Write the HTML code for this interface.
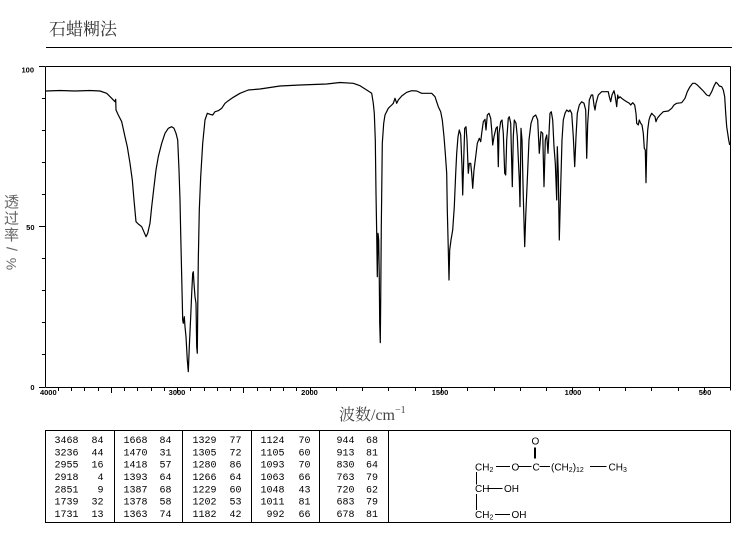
<!DOCTYPE html>
<html>
<head>
<meta charset="utf-8">
<style>
html,body{margin:0;padding:0;background:#fff;}
#wrap{position:relative;width:737px;height:539px;overflow:hidden;background:#fff;}
svg{position:absolute;left:0;top:0;}
</style>
</head>
<body>
<div id="wrap">
<svg width="737" height="539" viewBox="0 0 737 539" xmlns="http://www.w3.org/2000/svg">
<rect x="0" y="0" width="737" height="539" fill="#fff"/>
<!-- title -->
<text x="49" y="35" font-family="'Liberation Serif','Noto Serif CJK SC',serif" font-size="17" fill="#333">石蜡糊法</text>
<line x1="46" y1="47.5" x2="732" y2="47.5" stroke="#000" stroke-width="1"/>

<!-- y axis label (vertical stack) -->
<g font-family="'Liberation Sans','Noto Sans CJK SC',sans-serif" font-size="15" fill="#666" text-anchor="middle">
<text x="11.5" y="207">透</text>
<text x="11.5" y="223.5">过</text>
<text x="11.5" y="240">率</text>
<text transform="translate(11.5,249) rotate(90)" y="5" font-size="15">/</text>
<text transform="translate(11.5,264) rotate(90)" y="5" font-size="14">%</text>
</g>

<!-- frame -->
<g stroke="#000" stroke-width="1" shape-rendering="crispEdges" fill="none">
<line x1="45.5" y1="66.5" x2="730.5" y2="66.5"/>
<line x1="45.5" y1="66.5" x2="45.5" y2="387.5"/>
<line x1="730.5" y1="66.5" x2="730.5" y2="390.5"/>
<line x1="45.5" y1="387.5" x2="730.5" y2="387.5"/>
<!-- y ticks -->
<line x1="39" y1="66.5" x2="45" y2="66.5"/>
<line x1="42" y1="98.5" x2="45" y2="98.5"/>
<line x1="42" y1="130.5" x2="45" y2="130.5"/>
<line x1="42" y1="162.5" x2="45" y2="162.5"/>
<line x1="42" y1="194.5" x2="45" y2="194.5"/>
<line x1="39" y1="226.5" x2="45" y2="226.5"/>
<line x1="42" y1="258.5" x2="45" y2="258.5"/>
<line x1="42" y1="290.5" x2="45" y2="290.5"/>
<line x1="42" y1="322.5" x2="45" y2="322.5"/>
<line x1="42" y1="354.5" x2="45" y2="354.5"/>
<line x1="39" y1="387.5" x2="45" y2="387.5"/>
<!-- x ticks 4000-2000 every 100 -->
<path d="M58.5 388v3 M71.5 388v3 M84.5 388v3 M98.5 388v3 M111.5 388v5 M124.5 388v3 M137.5 388v3 M151.5 388v3 M164.5 388v3 M177.5 388v5 M190.5 388v3 M204.5 388v3 M217.5 388v3 M230.5 388v3 M243.5 388v5 M257.5 388v3 M270.5 388v3 M283.5 388v3 M296.5 388v3 M310.5 388v5"/>
<!-- x ticks 2000-400 every 100 -->
<path d="M336.5 388v3 M362.5 388v3 M388.5 388v3 M415.5 388v3 M441.5 388v5 M467.5 388v3 M494.5 388v3 M520.5 388v3 M546.5 388v3 M572.5 388v5 M599.5 388v3 M625.5 388v3 M651.5 388v3 M678.5 388v3 M704.5 388v5"/>
</g>

<!-- tick labels -->
<g font-family="'Liberation Sans',sans-serif" font-size="7.5" font-weight="bold" fill="#000">
<text x="34" y="72.3" text-anchor="end">100</text>
<text x="34.5" y="230" text-anchor="end">50</text>
<text x="34.5" y="389.8" text-anchor="end">0</text>
<text x="48.3" y="395" text-anchor="middle">4000</text>
<text x="177" y="395" text-anchor="middle">3000</text>
<text x="309.5" y="395" text-anchor="middle">2000</text>
<text x="440" y="395" text-anchor="middle">1500</text>
<text x="573" y="395" text-anchor="middle">1000</text>
<text x="705" y="395" text-anchor="middle">500</text>
</g>

<!-- x axis label -->
<text x="339" y="420" font-family="'Liberation Serif','Noto Serif CJK SC',serif" font-size="16" fill="#444">波数/cm<tspan font-size="10" dy="-7">−1</tspan></text>

<!-- spectrum -->
<polyline fill="none" stroke="#000" stroke-width="1.2" stroke-linejoin="round" points="46,91 60,90.5 75,91 90,90.5 100,91 106.7,93.3 111.7,98.3 115,101.7 115.7,99.3 116,110 118.3,115 121.7,121.7 125,136.7 127.3,146.7 130,163.3 132.3,180 134,200 136,221.7 138.3,224 141.7,226.7 146,236.7 147.7,233.3 150,223.3 151.7,206.7 154,186.7 156,170 158.3,156.7 161.7,143.3 165,133.3 168.3,128.3 171.7,126.7 174,128.3 176,133.3 177.7,140 179,170 180,200 180.7,233.3 181.7,276.7 182.7,320 183.3,323.3 184.3,316.7 185,326.7 186,336.7 187.3,360 188.3,371.7 189.3,346.7 190.7,316.7 191.7,293.3 192.7,273.3 193.3,271.7 194,283.3 195,296.7 196,303.3 196.7,346.7 197.3,353.3 197.7,313.3 198.3,260 199.3,210 200.7,176.7 202.7,143.3 205,120 207.3,113.3 210,114.3 212.7,115 215,111.7 218.3,110.7 221.7,108.3 225,103.3 228.3,100.7 233.3,97.3 240,93.3 248.3,90 260,89 280,86 300,85 326.7,84 340,82.5 353.3,83.3 360,85.7 366.7,90 371.7,93.3 373.3,103.3 374.3,113.3 375.3,140 376,193.3 376.7,233.3 377.3,276.7 378,233.3 378.7,240 379.3,280 379.7,323.3 380.3,342.7 380.7,300 381.3,226.7 382.3,143.3 383.7,123.3 385,115 388.3,108.3 391.7,105 393.3,103.3 395,98.3 396.7,103.3 398.3,100 401.7,96 406.7,92.3 411.7,90.7 416.7,91 421.7,93.3 431.7,93.3 435,96.7 438.3,106.7 440.7,111.7 442.3,120 444,136.7 445.3,153.3 446.7,173.3 447.3,210 448.3,250 449,280 449.7,250 451,240 452.7,230 454.3,206.7 455.7,173.3 456.7,153.3 458,136.7 459.3,130 460.7,135 462,166.7 462.7,195 463.7,160 464.7,128.3 466,126.7 467,140 468.3,173.3 469.3,163.3 470.7,163.3 471.7,173.3 472.7,188.3 474,170 475.7,156.7 477.3,143.3 479.3,138.3 480.7,141.7 481.7,133.3 483.3,121.7 485,119.3 486,130 487.3,115 489,113.3 490.7,118.3 491.7,130 492.7,145 494,136.7 496,128.3 497.3,126.7 498.3,166.7 499,133.3 500.7,121.7 502,120 503.3,133.3 504.7,173.3 505.7,175 506.7,140 508.3,118.3 509.3,116.7 510.7,123.3 512.3,186.7 513.3,136.7 514.3,120 516,123.3 517.3,136.7 519.3,180 520,206.7 521,128.3 522,140 523.3,196.7 524.7,246.7 525.7,216.7 527.3,180 529,140 531,123.3 533.3,116.7 535.7,115 537.7,120 539.3,153.3 541,131.7 542.7,133.3 544,186.7 545.3,140 546.7,135 548,153.3 549,133.3 550,113.3 551.3,111.7 552.7,120 554,146.7 555.3,163.3 556.7,200 557.3,146.7 558.3,173.3 559.3,240 560.7,186.7 562,140 563.3,120 565,113.3 566.7,110 568.7,111.7 570,110 571.7,113.3 573.3,136.7 574.7,166.7 576,136.7 577.3,113.3 579.3,105 581.7,101.7 584,103.3 585.7,110 586.7,158.3 587.7,123.3 589.3,100 591.3,95 592.7,95 594,105 595,110 596,103.3 598.3,95 601.7,91.7 608.3,91.7 609.3,96.7 610.7,101.7 612,95 614,90.7 615,95 616,101.7 616.7,106.7 617.7,95 618.7,98.3 620,96.7 621.7,98.3 624,100 626.7,101.7 629.3,103.3 630.7,105 632.7,102.7 634.7,105 636,113.3 636.7,123.3 638.3,125 639.3,120 640.7,123.3 642,125 643.3,133.3 644.3,148.3 645.3,150 646,182.7 646.7,150 647.7,130 649,120 650,116.7 651.7,113.3 653.3,115 655,116.7 656,121.7 657.3,118.3 660,115 663.3,111.7 668.3,111 671.7,108.3 674,105 676.7,103.3 681.7,102.7 685,98.3 687.3,91.7 690,86.7 692.7,83.3 695,83.3 697.3,85 700,87.7 703.3,91 706.7,95 709.3,96 711.7,91.7 714,86 716,82.3 717.3,83.3 719.3,86 721.7,86.7 723.3,90 724.7,96.7 725.7,113.3 726.7,126.7 727.7,133.3 728.7,140 729.7,145"/>

<!-- table -->
<g stroke="#000" stroke-width="1" fill="none" shape-rendering="crispEdges">
<rect x="45.5" y="430.5" width="685" height="92"/>
<line x1="114.5" y1="430.5" x2="114.5" y2="522.5"/>
<line x1="182.5" y1="430.5" x2="182.5" y2="522.5"/>
<line x1="251.5" y1="430.5" x2="251.5" y2="522.5"/>
<line x1="319.5" y1="430.5" x2="319.5" y2="522.5"/>
<line x1="388.5" y1="430.5" x2="388.5" y2="522.5"/>
</g>
<g font-family="'Liberation Mono',monospace" font-size="10" fill="#000">
<g text-anchor="end">
<text x="78.5" y="443.2">3468</text><text x="103.5" y="443.2">84</text>
<text x="78.5" y="455.5">3236</text><text x="103.5" y="455.5">44</text>
<text x="78.5" y="467.7">2955</text><text x="103.5" y="467.7">16</text>
<text x="78.5" y="480">2918</text><text x="103.5" y="480">4</text>
<text x="78.5" y="492.3">2851</text><text x="103.5" y="492.3">9</text>
<text x="78.5" y="504.6">1739</text><text x="103.5" y="504.6">32</text>
<text x="78.5" y="516.8">1731</text><text x="103.5" y="516.8">13</text>
<text x="147.5" y="443.2">1668</text><text x="171.5" y="443.2">84</text>
<text x="147.5" y="455.5">1470</text><text x="171.5" y="455.5">31</text>
<text x="147.5" y="467.7">1418</text><text x="171.5" y="467.7">57</text>
<text x="147.5" y="480">1393</text><text x="171.5" y="480">64</text>
<text x="147.5" y="492.3">1387</text><text x="171.5" y="492.3">68</text>
<text x="147.5" y="504.6">1378</text><text x="171.5" y="504.6">58</text>
<text x="147.5" y="516.8">1363</text><text x="171.5" y="516.8">74</text>
<text x="216.5" y="443.2">1329</text><text x="241.5" y="443.2">77</text>
<text x="216.5" y="455.5">1305</text><text x="241.5" y="455.5">72</text>
<text x="216.5" y="467.7">1280</text><text x="241.5" y="467.7">86</text>
<text x="216.5" y="480">1266</text><text x="241.5" y="480">64</text>
<text x="216.5" y="492.3">1229</text><text x="241.5" y="492.3">60</text>
<text x="216.5" y="504.6">1202</text><text x="241.5" y="504.6">53</text>
<text x="216.5" y="516.8">1182</text><text x="241.5" y="516.8">42</text>
<text x="284.5" y="443.2">1124</text><text x="310.5" y="443.2">70</text>
<text x="284.5" y="455.5">1105</text><text x="310.5" y="455.5">60</text>
<text x="284.5" y="467.7">1093</text><text x="310.5" y="467.7">70</text>
<text x="284.5" y="480">1063</text><text x="310.5" y="480">66</text>
<text x="284.5" y="492.3">1048</text><text x="310.5" y="492.3">43</text>
<text x="284.5" y="504.6">1011</text><text x="310.5" y="504.6">81</text>
<text x="284.5" y="516.8">992</text><text x="310.5" y="516.8">66</text>
<text x="354.5" y="443.2">944</text><text x="378" y="443.2">68</text>
<text x="354.5" y="455.5">913</text><text x="378" y="455.5">81</text>
<text x="354.5" y="467.7">830</text><text x="378" y="467.7">64</text>
<text x="354.5" y="480">763</text><text x="378" y="480">79</text>
<text x="354.5" y="492.3">720</text><text x="378" y="492.3">62</text>
<text x="354.5" y="504.6">683</text><text x="378" y="504.6">79</text>
<text x="354.5" y="516.8">678</text><text x="378" y="516.8">81</text>
</g>
</g>

<!-- structure -->
<g font-family="'Liberation Sans',sans-serif" font-size="10" fill="#000">
<text x="531.5" y="444.5">O</text>
<text x="475" y="470.3">CH<tspan font-size="7" dy="1.5">2</tspan></text>
<text x="511.5" y="470.3">O</text>
<text x="532.5" y="470.3">C</text>
<text x="551" y="470.3">(CH<tspan font-size="7" dy="1.5">2</tspan><tspan dy="-1.5">)</tspan><tspan font-size="7" dy="1.5">12</tspan></text>
<text x="608.5" y="470.3">CH<tspan font-size="7" dy="1.5">3</tspan></text>
<text x="475" y="492">CH</text>
<text x="504" y="492">OH</text>
<text x="475" y="518">CH<tspan font-size="7" dy="1.5">2</tspan></text>
<text x="511.5" y="518">OH</text>
</g>
<g stroke="#000" stroke-width="1" fill="none">
<line x1="535" y1="447.5" x2="535" y2="458.5" stroke-width="2"/>
<line x1="496" y1="466.5" x2="510" y2="466.5"/>
<line x1="518" y1="466.5" x2="531.5" y2="466.5"/>
<line x1="539.5" y1="466.5" x2="550" y2="466.5"/>
<line x1="590" y1="466.5" x2="606.5" y2="466.5"/>
<line x1="476.5" y1="472" x2="476.5" y2="484.5"/>
<line x1="487.5" y1="488.5" x2="502.5" y2="488.5"/>
<line x1="476.5" y1="494" x2="476.5" y2="510"/>
<line x1="495" y1="514.5" x2="510" y2="514.5"/>
</g>
</svg>
</div>
</body>
</html>
